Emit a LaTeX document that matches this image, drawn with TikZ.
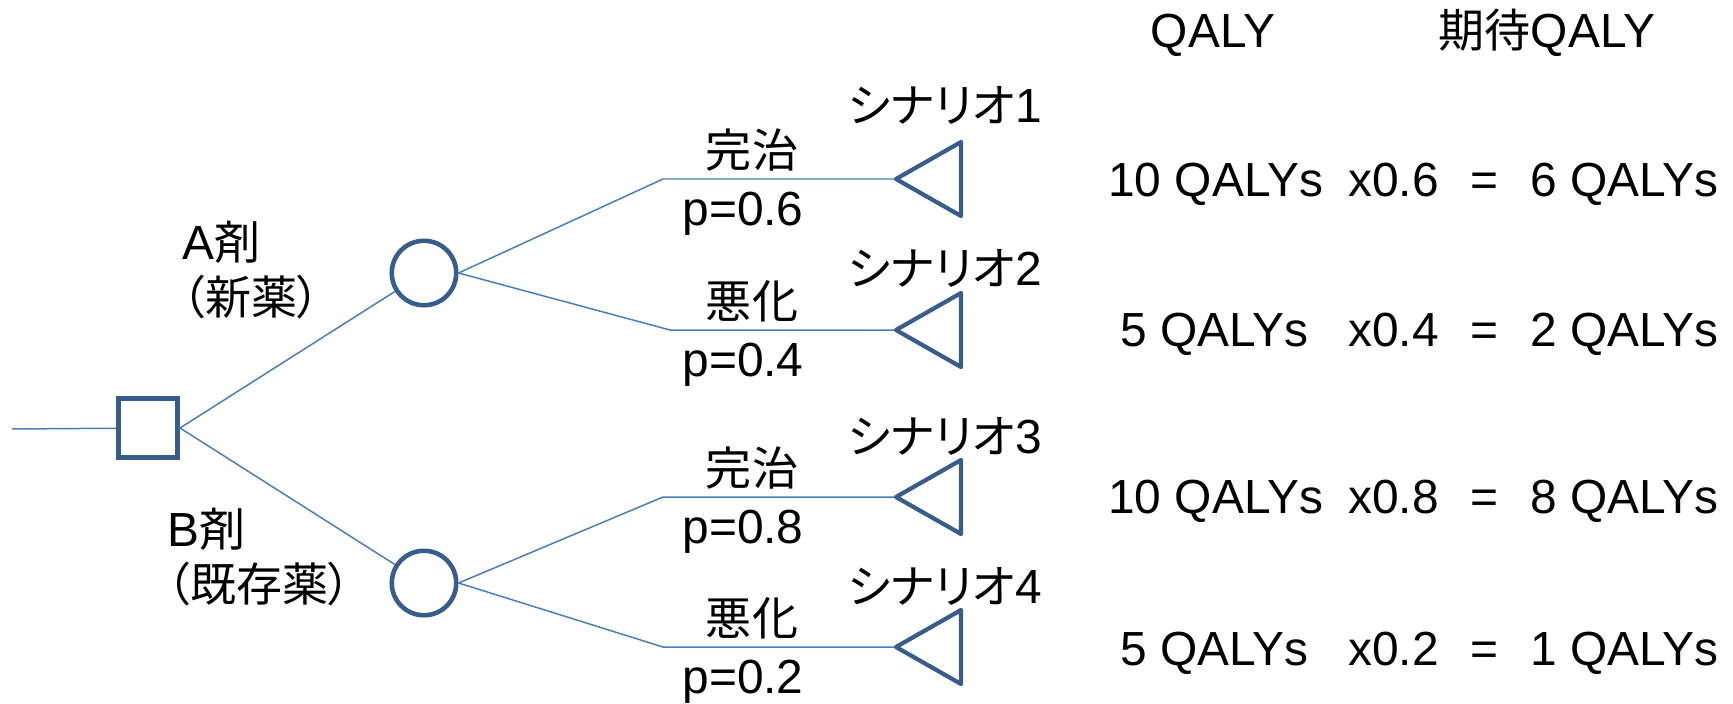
\documentclass[tikz,border=0pt]{standalone}
\usepackage{fontspec}
\setmainfont{Liberation Sans}[Scale=1.04]
\newfontfamily\jpfont{Noto Sans CJK JP}[RawFeature=+palt]
\newcommand\ja[1]{{\jpfont #1}}
\definecolor{branchblue}{RGB}{74,126,187}
\definecolor{nodeblue}{RGB}{56,93,138}
\tikzset{
  branch/.style={draw=branchblue, line width=0.85pt},
  choice/.style={rectangle, draw=nodeblue, line width=2.6pt, minimum size=1.19cm, inner sep=0pt},
  chance/.style={circle, draw=nodeblue, line width=2.6pt, minimum size=1.29cm, inner sep=0pt},
  payoff/.style={draw=nodeblue, line width=2.4pt, line join=round},
  lbl/.style={anchor=base, inner sep=0pt},
}
\begin{document}
\begin{tikzpicture}[x=0.02cm,y=-0.02cm,font=\fontsize{26.2}{31.2}\selectfont]
  \useasboundingbox (0,0) rectangle (1733,703);
  % decision and chance nodes
  \coordinate (in) at (12,429);
  \node[choice] (dec) at (148,428) {};
  \node[chance] (chA) at (424,273) {};
  \node[chance] (chB) at (424,583) {};
  \draw[branch] (in) -- (dec);
  \draw[branch] (dec.east) -- (chA);
  \draw[branch] (dec.east) -- (chB);
  \node[anchor=base west,align=left,inner sep=0pt] (lA) at (182,314) {A\ja{剤}\\\ja{（新薬）}};
  \node[anchor=base west,align=left,inner sep=0pt] (lB) at (167,601) {B\ja{剤}\\\ja{（既存薬）}};
  % outcome branches with end triangles
  \foreach \n/\k/\kx/\y/\ev/\pr/\sy in {1/A/663/179/完治/0.6/122, 2/A/670/330/悪化/0.4/285,
                                         3/B/663/497/完治/0.8/453, 4/B/663/647/悪化/0.2/603}{
    \coordinate (k\n) at (\kx,\y);
    \coordinate (t\n) at (896,\y);
    \draw[branch] (ch\k.east) -- (k\n) -- (t\n);
    \draw[payoff] (t\n) -- ++(65,-37) -- ++(0,74) -- cycle;
    \node[lbl] (ev\n) at (752,\y-12) {\ja{\ev}};
    \node[lbl] (pr\n) at (743,\y+46) {p=\pr};
    \node[lbl,anchor=base west] (sc\n) at (848,\sy) {\ja{シナリオ}\n};
  }
  % table on the right
  \node[lbl] (hq) at (1213,47) {QALY};
  \node[lbl] (he) at (1547,47) {\ja{期待}QALY};
  \foreach \n/\q/\qx/\p/\v/\y in {1/10/1108/0.6/6/196, 2/5/1120/0.4/2/346,
                                  3/10/1108/0.8/8/513, 4/5/1120/0.2/1/665}{
    \node[lbl,anchor=base west] (q\n) at (\qx,\y) {\q{} QALYs};
    \node[lbl,anchor=base west] (m\n) at (1348,\y) {x\p};
    \node[lbl,anchor=base west] (e\n) at (1470,\y) {=};
    \node[lbl,anchor=base west] (v\n) at (1530,\y) {\v{} QALYs};
  }
\end{tikzpicture}
\end{document}
